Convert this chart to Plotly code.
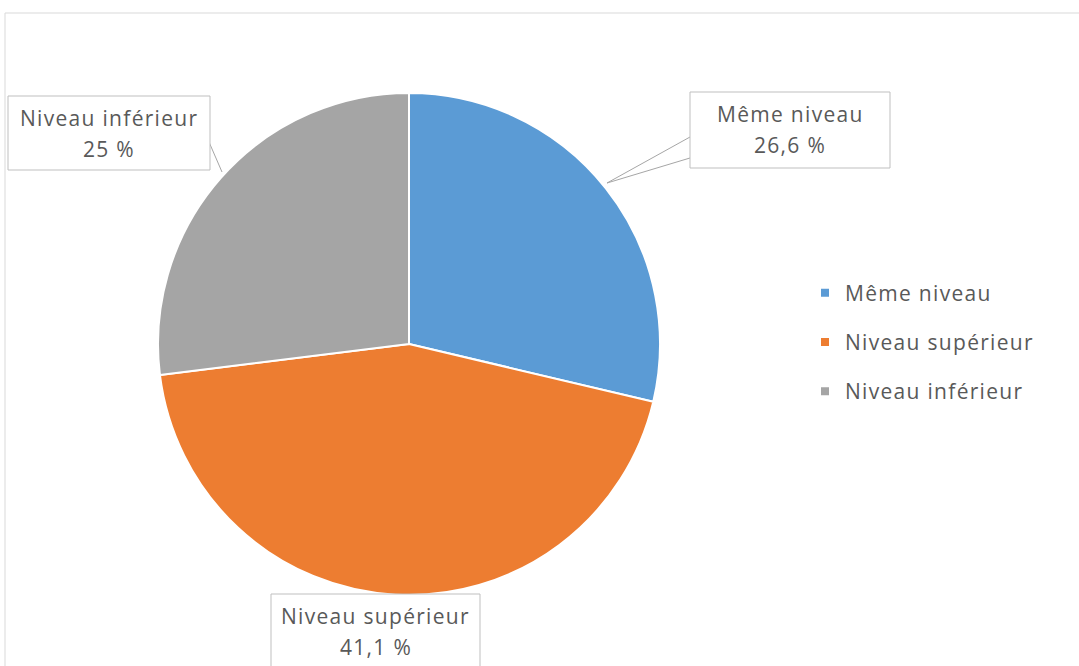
import plotly.graph_objects as go

categories = ["Même niveau", "Niveau supérieur", "Niveau inférieur"]
values = [26.6, 41.1, 25]
colors = ["#5B9BD5", "#ED7D31", "#A5A5A5"]

W, H = 1079, 666
FONT = "Open Sans"
TXT = "#595959"
SPACED = "<span style='letter-spacing:1.3px'>%s</span>"


def px(x):
    return x / W


def py(y):
    return 1 - y / H


def fmt(v):
    s = ("%g" % v).replace(".", ",")
    return s + " %"


fig = go.Figure()

# pie geometry: centre (409, 344), radius 251 px
cx, cy, r = 409, 344, 251
fig.add_trace(go.Pie(
    labels=categories, values=values, sort=False, direction="clockwise",
    rotation=0, marker=dict(colors=colors, line=dict(color="white", width=2)),
    textinfo="none", showlegend=False, hoverinfo="label+value",
    domain=dict(x=[px(cx - r), px(cx + r)], y=[py(cy + r), py(cy - r)]),
))

# legend entries (one trace per category so spacing can be controlled)
for cat, col in zip(categories, colors):
    fig.add_trace(go.Scatter(
        x=[None], y=[None], mode="markers", name=SPACED % cat, legendgroup=cat,
        marker=dict(symbol="square", size=8, color=col),
    ))

shapes = []
annotations = []

# outer chart border
shapes.append(dict(type="rect", xref="paper", yref="paper",
                   x0=px(5), x1=px(W + 10), y0=py(H + 10), y1=py(13),
                   line=dict(color="#D9D9D9", width=1), fillcolor="rgba(0,0,0,0)"))

# label boxes: (category index, box px x0, x1, y0, y1)
boxes = [
    (0, 690, 890, 92, 168),
    (2, 8, 210, 96, 170),
    (1, 271, 480, 594, 670),
]

# leader lines
shapes.append(dict(type="path", xref="paper", yref="paper",
                   path="M %f %f L %f %f L %f %f" % (px(690), py(137), px(607), py(183), px(690), py(158)),
                   line=dict(color="#A6A6A6", width=1), fillcolor="white"))
shapes.append(dict(type="line", xref="paper", yref="paper",
                   x0=px(209), y0=py(142), x1=px(222), y1=py(172),
                   line=dict(color="#A6A6A6", width=1)))

for i, x0, x1, y0, y1 in boxes:
    shapes.append(dict(type="rect", xref="paper", yref="paper",
                       x0=px(x0), x1=px(x1), y0=py(y1), y1=py(y0),
                       line=dict(color="#BFBFBF", width=1), fillcolor="white", layer="above"))
    xc = (x0 + x1) / 2
    annotations.append(dict(xref="paper", yref="paper", x=px(xc), y=py(y0 + 22),
                            text=SPACED % categories[i], showarrow=False, xanchor="center", yanchor="middle",
                            font=dict(family=FONT, size=21, color=TXT)))
    annotations.append(dict(xref="paper", yref="paper", x=px(xc), y=py(y0 + 53),
                            text=SPACED % fmt(values[i]), showarrow=False, xanchor="center", yanchor="middle",
                            font=dict(family=FONT, size=21, color=TXT)))

fig.update_layout(
    width=W, height=H,
    margin=dict(l=0, r=0, t=0, b=0),
    paper_bgcolor="white", plot_bgcolor="white",
    xaxis=dict(visible=False), yaxis=dict(visible=False),
    shapes=shapes, annotations=annotations,
    showlegend=True,
    legend=dict(x=px(805), xanchor="left", y=py(342), yanchor="middle",
                font=dict(family=FONT, size=21, color=TXT),
                tracegroupgap=19, bgcolor="rgba(0,0,0,0)"),
)

fig.write_html("out.html", config={"displayModeBar": False},
               post_script="document.body.style.margin='0';")
